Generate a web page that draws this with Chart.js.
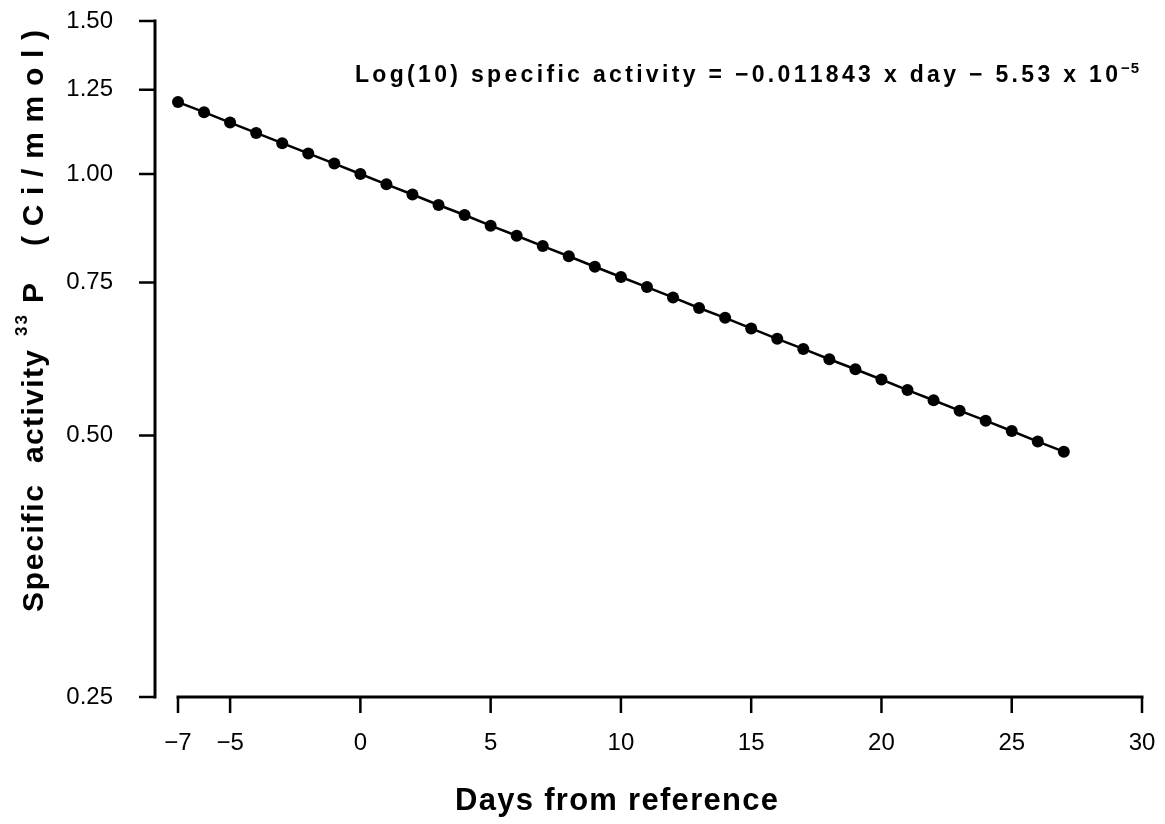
<!DOCTYPE html>
<html>
<head>
<meta charset="utf-8">
<script src="https://cdn.jsdelivr.net/npm/chart.js@4.4.0/dist/chart.umd.min.js"></script>
<style>
  html, body { margin: 0; padding: 0; background: #fff; }
  #wrap { width: 1165px; height: 824px; position: relative; }
</style>
</head>
<body>
<div id="wrap"><canvas id="decay"></canvas></div>
<script>
// Days relative to the reference date
const days = [
  -7, -6, -5, -4, -3, -2, -1, 0, 1, 2, 3, 4, 5, 6, 7, 8, 9,
  10, 11, 12, 13, 14, 15, 16, 17, 18, 19, 20, 21, 22, 23, 24, 25, 26, 27,
];
// Specific activity of 33P (Ci/mmol)
const activity = [
  1.210, 1.178, 1.146, 1.115, 1.085, 1.056, 1.028, 1.000, 0.973, 0.947, 0.921, 0.897, 0.872, 0.849, 0.826, 0.804, 0.782,
  0.761, 0.741, 0.721, 0.701, 0.683, 0.664, 0.646, 0.629, 0.612, 0.596, 0.580, 0.564, 0.549, 0.534, 0.520, 0.506, 0.492, 0.479,
];
const xTicks = [-7, -5, 0, 5, 10, 15, 20, 25, 30];
const yTicks = [0.25, 0.5, 0.75, 1.0, 1.25, 1.5];

const xTitle = 'Days from reference';
const equationParts = ['Log(10) specific activity = \u22120.011843 x day \u2212 5.53 x 10', '\u22125'];

const ink = '#000';
const family = '"Liberation Sans", Arial, Helvetica, sans-serif';

Chart.defaults.font.family = family;
Chart.defaults.color = ink;

// draw text one glyph at a time so the wide letter spacing of the original can be kept
const glyphWidth = (ctx, text) => [...text].reduce((w, ch) => w + ctx.measureText(ch).width, 0);
const drawSpaced = (ctx, text, x, y, spacing) => {
  let cx = x;
  [...text].forEach((ch) => {
    ctx.fillText(ch, cx, y);
    cx += ctx.measureText(ch).width + spacing;
  });
  return cx;
};
// stretch a word between two offsets
const drawFitted = (ctx, text, from, to, y) => {
  const n = [...text].length;
  const s = n > 1 ? (to - from - glyphWidth(ctx, text)) / (n - 1) : 0;
  drawSpaced(ctx, text, from, y, s);
};

// SigmaPlot style axes: y axis pulled away from the data, x axis starting at the first day
const detachedAxes = {
  id: 'detachedAxes',
  afterDraw(chart) {
    const { ctx, chartArea } = chart;
    const { x, y } = chart.scales;
    const gap = 23;
    const tick = 16;
    const yLine = chartArea.left - gap;
    const xLine = y.getPixelForValue(yTicks[0]);
    ctx.save();
    ctx.strokeStyle = ink;
    ctx.lineCap = 'square';

    ctx.lineWidth = 3;
    ctx.beginPath();
    ctx.moveTo(yLine, y.getPixelForValue(yTicks[yTicks.length - 1]));
    ctx.lineTo(yLine, xLine);
    ctx.moveTo(x.getPixelForValue(xTicks[0]), xLine);
    ctx.lineTo(x.getPixelForValue(xTicks[xTicks.length - 1]), xLine);
    ctx.stroke();

    ctx.lineWidth = 2.5;
    ctx.lineCap = 'butt';
    ctx.beginPath();
    yTicks.forEach((v) => {
      const py = y.getPixelForValue(v);
      ctx.moveTo(yLine - tick, py);
      ctx.lineTo(yLine, py);
    });
    xTicks.forEach((v) => {
      const px = x.getPixelForValue(v);
      ctx.moveTo(px, xLine);
      ctx.lineTo(px, xLine + tick);
    });
    ctx.stroke();
    ctx.restore();
  },
};

// titles and the fitted equation, letter-spaced like the original
const spacedText = {
  id: 'spacedText',
  afterDraw(chart) {
    const { ctx, chartArea } = chart;
    ctx.save();
    ctx.fillStyle = ink;
    ctx.textBaseline = 'alphabetic';
    ctx.textAlign = 'left';

    // x title
    ctx.font = `bold 31px ${family}`;
    drawFitted(ctx, xTitle, chartArea.left + 277, chartArea.left + 600, 810);

    // equation, ending at the right edge of the plot
    const [eq, sup] = equationParts;
    ctx.font = `bold 23px ${family}`;
    const eqLeft = chartArea.left + 177;
    const eqRight = chartArea.right - 24;
    drawFitted(ctx, eq, eqLeft, eqRight, 82);
    ctx.font = `bold 15px ${family}`;
    drawSpaced(ctx, sup, eqRight + 3, 73, 1);

    // y title, rotated; each word sits where it does in the original
    ctx.translate(43, 612);
    ctx.rotate(-Math.PI / 2);
    ctx.font = `bold 30px ${family}`;
    drawFitted(ctx, 'Specific', 0, 127, 0);
    drawFitted(ctx, 'activity', 149, 262, 0);
    drawFitted(ctx, 'P', 309, 329, 0);
    drawFitted(ctx, '(Ci/mmol)', 366, 582, 0);
    ctx.font = `bold 17px ${family}`;
    drawFitted(ctx, '33', 276, 297, -16);
    ctx.restore();
  },
};

const ctx = document.getElementById('decay');
new Chart(ctx, {
  type: 'line',
  data: {
    datasets: [
      {
        data: days.map((d, i) => ({ x: d, y: activity[i] })),
        borderColor: ink,
        borderWidth: 2.5,
        tension: 0,
        pointRadius: 6,
        pointBackgroundColor: ink,
        pointBorderWidth: 0,
        clip: false,
      },
    ],
  },
  options: {
    responsive: true,
    maintainAspectRatio: false,
    animation: false,
    layout: {
      padding: { top: 21, right: 23, bottom: 0, left: 0 },
    },
    scales: {
      x: {
        type: 'linear',
        min: xTicks[0],
        max: xTicks[xTicks.length - 1],
        afterBuildTicks: (scale) => { scale.ticks = xTicks.map((v) => ({ value: v })); },
        afterFit: (scale) => { scale.height = 127; },
        // tick marks are drawn by the plugin; tickLength only pushes labels down
        grid: { display: false, drawTicks: true, tickLength: 30 },
        border: { display: false },
        ticks: {
          autoSkip: false,
          maxRotation: 0,
          padding: 2,
          font: { size: 24 },
          color: ink,
          callback: (v) => (v < 0 ? `\u2212${Math.abs(v)}` : `${v}`),
        },
      },
      y: {
        type: 'logarithmic',
        min: yTicks[0],
        max: yTicks[yTicks.length - 1],
        afterBuildTicks: (scale) => { scale.ticks = yTicks.map((v) => ({ value: v })); },
        afterFit: (scale) => { scale.width = 178; },
        grid: { display: false, drawTicks: true, tickLength: 60 },
        border: { display: false },
        ticks: {
          autoSkip: false,
          padding: 5,
          font: { size: 24 },
          color: ink,
          callback: (v) => Number(v).toFixed(2),
        },
      },
    },
    plugins: {
      legend: { display: false },
      tooltip: { enabled: false },
    },
  },
  plugins: [detachedAxes, spacedText],
});
</script>
</body>
</html>
